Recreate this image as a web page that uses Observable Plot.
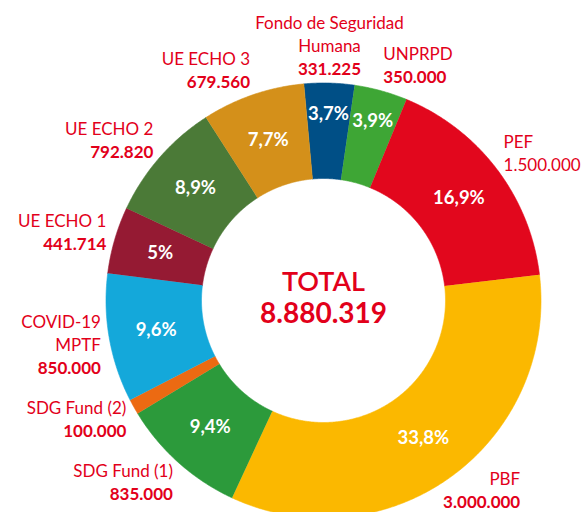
<!DOCTYPE html>
<html>
<head>
<meta charset="utf-8">
<script src="https://cdn.jsdelivr.net/npm/d3@7"></script>
<script src="https://cdn.jsdelivr.net/npm/@observablehq/plot@0.6"></script>
<style>
  html, body { margin: 0; padding: 0; background: #ffffff; }
  #chart svg { display: block; }
</style>
</head>
<body>
<div id="chart"></div>
<script>
// ---- data ----
const names = ["Fondo de Seguridad\nHumana", "UNPRPD", "PEF", "PBF", "SDG Fund (1)", "SDG Fund (2)", "COVID-19\nMPTF", "UE ECHO 1", "UE ECHO 2", "UE ECHO 3"];
const amounts = [331225, 350000, 1500000, 3000000, 835000, 100000, 850000, 441714, 792820, 679560];
const shareLabels = ["3,7%", "3,9%", "16,9%", "33,8%", "9,4%", "", "9,6%", "5%", "8,9%", "7,7%"];
const sliceColors = ["#004f86", "#3ea635", "#e2071d", "#fbb800", "#2c9a3b", "#ec6a12", "#14a8da", "#951a33", "#4b7a37", "#d4901a"];
const totalTitle = "TOTAL";

// ---- layout ----
const W = 588, H = 512;
const cx = 323, cy = 300, R = 217.5;         // pixels
const innerR = 122 / R;                       // units of outer radius
const startAngle = -5.2 * Math.PI / 180;
const red = "#e2001a";
const font = "Lato, 'Open Sans', sans-serif";
// label placement tweak for the label that would run off the bottom edge
const labelNudge = {"PBF": {anchor: "end", dx: 64, dy: -7}};

const fmt = d3.formatLocale({decimal: ",", thousands: ".", grouping: [3], currency: ["", "€"]}).format(",d");
const total = d3.sum(amounts);

// slices
let acc = 0;
const slices = names.map((name, i) => {
  const a0 = startAngle + 2 * Math.PI * acc / total;
  acc += amounts[i];
  const a1 = startAngle + 2 * Math.PI * acc / total;
  return {name, amount: amounts[i], share: amounts[i] / total, label: shareLabels[i], a0, a1, mid: (a0 + a1) / 2};
});

// polygon outline of each ring segment (geometry only)
const outline = [];
for (const s of slices) {
  const n = Math.max(2, Math.ceil((s.a1 - s.a0) / (0.4 * Math.PI / 180)));
  for (let k = 0; k <= n; ++k) {
    const a = s.a0 + (s.a1 - s.a0) * k / n;
    outline.push({name: s.name, x: Math.sin(a), y: Math.cos(a)});
  }
  for (let k = n; k >= 0; --k) {
    const a = s.a0 + (s.a1 - s.a0) * k / n;
    outline.push({name: s.name, x: innerR * Math.sin(a), y: innerR * Math.cos(a)});
  }
}

// percentage labels inside ring
const pct = slices.filter(s => s.label).map(s => {
  const r = (s.share < 0.045 ? 186 : 170) / R;
  return {...s, x: r * Math.sin(s.mid), y: r * Math.cos(s.mid)};
});

// outer labels
const lineGap = 23;
const outer = slices.map(s => {
  const r = 226 / R;
  const sn = Math.sin(s.mid), cs = Math.cos(s.mid);
  const nLines = s.name.split("\n").length;
  const h = 12 + nLines * lineGap;
  const nudge = labelNudge[s.name] || {};
  const anchor = nudge.anchor || (sn > 0.1 ? "start" : sn < -0.1 ? "end" : "middle");
  return {
    ...s,
    anchor,
    dx: nudge.dx || 0,
    dy: nudge.dy || 0,
    x: r * sn,
    y: r * cs - (1 - cs) * h / 2 / R,
    value: fmt(s.amount)
  };
});

const labelMarks = outer.flatMap(d => [
  Plot.text([d], {
    x: "x", y: "y", text: "name", textAnchor: d.anchor, lineAnchor: "bottom",
    dx: d.dx, dy: d.dy - lineGap, fontSize: 17, lineHeight: lineGap / 17, fill: red, fontFamily: font
  }),
  Plot.text([d], {
    x: "x", y: "y", text: "value", textAnchor: d.anchor, lineAnchor: "bottom",
    dx: d.dx, dy: d.dy, fontSize: 17, fontWeight: d.name === "PEF" ? 400 : 700, fill: red, fontFamily: font
  })
]);

const chart = Plot.plot({
  width: W,
  height: H,
  margin: 0,
  style: {background: "#ffffff", fontFamily: font},
  x: {domain: [-cx / R, (W - cx) / R], axis: null},
  y: {domain: [-(H - cy) / R, cy / R], axis: null},
  color: {domain: names, range: sliceColors},
  marks: [
    Plot.line(outline, {x: "x", y: "y", z: "name", fill: "name", stroke: "name", strokeWidth: 0.6, curve: "linear"}),
    Plot.text(pct, {x: "x", y: "y", text: "label", fill: "#ffffff", fontSize: 18.5, fontWeight: 700, fontFamily: font, lineAnchor: "middle"}),
    ...labelMarks,
    Plot.text([totalTitle], {x: () => 0, y: () => 0, text: d => d, dy: -10, lineAnchor: "bottom", fontSize: 27, fontWeight: 600, fill: red, fontFamily: font}),
    Plot.text([total], {x: () => 0, y: () => 0, text: d => fmt(d), dy: 22, lineAnchor: "bottom", fontSize: 28, fontWeight: 700, fill: red, fontFamily: font})
  ]
});

document.getElementById("chart").appendChild(chart);
</script>
</body>
</html>
